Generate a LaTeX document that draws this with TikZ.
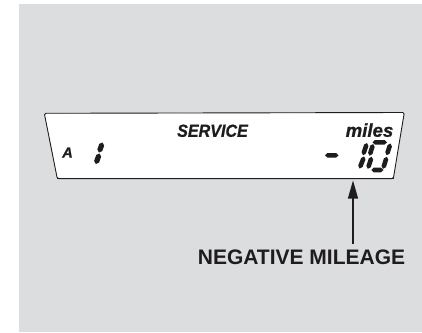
\documentclass[tikz,border=0pt]{standalone}
\usepackage{fontspec}
\setmainfont{Liberation Sans}
\newfontfamily\lcdfont[BoldItalicFeatures={FakeBold=0.9}]{Liberation Sans}
\usetikzlibrary{arrows.meta, calc}

\definecolor{panelgray}{RGB}{220,221,223}
\definecolor{inkdark}{RGB}{30,28,29}

% one tapered lcd segment between two tips
\newcommand{\lcdseg}[3][2.3pt]{%
	\fill[inkdark] #2 -- ($#2!2.4pt!#3!#1!90:#3$) -- ($#3!2.4pt!#2!#1!-90:#2$) -- #3
		-- ($#3!2.4pt!#2!#1!90:#2$) -- ($#2!2.4pt!#3!#1!-90:#3$) -- cycle;}

\tikzset{
	lcdword/.style={inner sep=0pt, anchor=base, text=inkdark},
	pointer/.style={inkdark, line width=1.2pt, -{Triangle[length=18pt, width=10pt]}},
}

\begin{document}
\begin{tikzpicture}[x=1pt, y=-1pt]
	\useasboundingbox (0,0) rectangle (422,332);
	\fill[panelgray] (19,4) rectangle (422,332);
	% display window
	\draw[fill=white, draw=inkdark, line width=0.9pt, rounded corners=1.5pt]
		(57.3,178.7) -- (44.3,113.3) -- (404.3,112.5) -- (393.3,178.7) -- cycle;
	\draw[inkdark, line width=1.5pt] (57,178.7) -- (393.6,178.7);
	% words on the display
	\node[lcdword, font=\fontsize{17.5}{17.5}\lcdfont\bfseries\itshape, xscale=0.92] (service) at (212.5,136.8) {SERVICE};
	\node[lcdword, font=\fontsize{18.6}{18.6}\lcdfont\bfseries\itshape] (miles) at (369.5,136.8) {miles};
	\node[lcdword, font=\fontsize{14.5}{14.5}\lcdfont\bfseries\itshape] (mode) at (67.5,157.5) {A};
	% segments: left 1
	\lcdseg[2.6pt]{(102.5,142.5)}{(99,152.5)}
	\lcdseg[2.6pt]{(99.5,153.5)}{(95.8,164)}
	% segments: - 10
	\foreach \xa/\ya/\xb/\yb in {325/155.3/338.5/155.3, 367/143/363/155.2, 364.2/156.5/359.5/168.5,
		372.5/142.3/387/142.3, 373.2/144/369.5/155.7, 390.5/143.5/386.7/155.2,
		371.7/156.8/367.8/168.8, 386.8/156.8/383/168.8, 371.3/170/383.5/170} {
		\lcdseg{(\xa,\ya)}{(\xb,\yb)}
	}
	% callout
	\coordinate (tip) at (353,180.5);
	\node[inner sep=0pt, outer sep=5pt, anchor=base, text=inkdark,
		font=\fontsize{21}{21}\selectfont\bfseries] (label) at (301.5,264) {NEGATIVE MILEAGE};
	\draw[pointer] (label.north -| tip) -- (tip);
\end{tikzpicture}
\end{document}
